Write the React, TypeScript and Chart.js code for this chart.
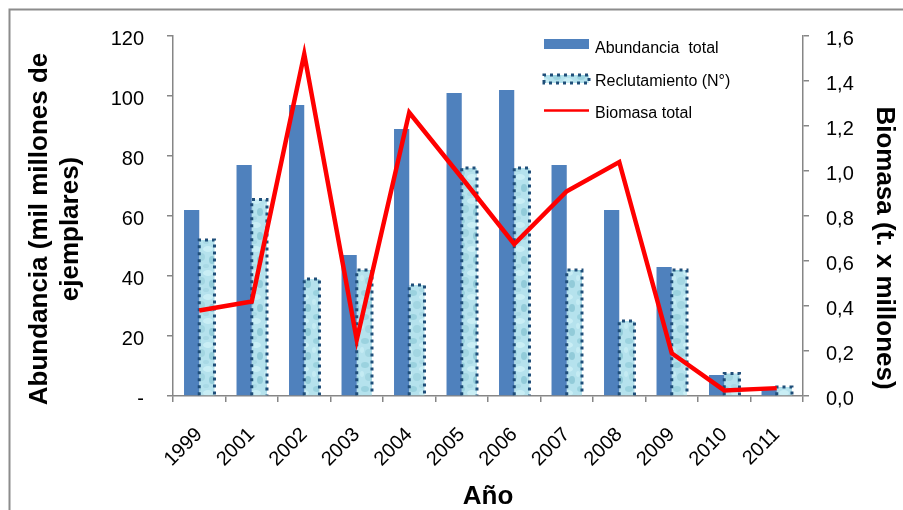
import React, { useEffect, useRef } from "react";
import { Chart, registerables } from "chart.js";

Chart.register(...registerables);

// ---------- data ----------
const years = ["1999", "2001", "2002", "2003", "2004", "2005", "2006", "2007", "2008", "2009", "2010", "2011"];
const abundancia = [62, 77, 97, 47, 89, 101, 102, 77, 62, 43, 7, 2];
const reclutamiento = [52, 65.5, 39, 42, 37, 76, 76, 42, 25, 42, 7.5, 3];
const biomasa = [0.38, 0.42, 1.52, 0.25, 1.26, 0.97, 0.675, 0.91, 1.04, 0.19, 0.025, 0.035];
const leftTickLabels = ["-", "20", "40", "60", "80", "100", "120"];
const rightTickLabels = ["0,0", "0,2", "0,4", "0,6", "0,8", "1,0", "1,2", "1,4", "1,6"];
const seriesNames = ["Abundancia  total", "Reclutamiento (N°)", "Biomasa total"];
const leftTitleLines = ["Abundancia (mil millones de", "ejemplares)"];
const rightTitle = "Biomasa (t. x millones)";
const xTitle = "Año";

// ---------- style ----------
const FONT = '"Liberation Sans", Arial, sans-serif';
const BLUE = "#4f81bd";
const RED = "#ff0000";
const DOT = "#1f4e79";
const AXIS = "#868686";

function makePattern(): CanvasPattern | string {
  const c = document.createElement("canvas");
  c.width = 24;
  c.height = 24;
  const g = c.getContext("2d");
  if (!g) return "#b3e1ec";
  g.fillStyle = "#b5e2ed";
  g.fillRect(0, 0, 24, 24);
  const blobs: [number, number, number, number, string][] = [
    [5, 5, 4, 3, "#9bd2df"],
    [16, 9, 5, 3, "#c9eef5"],
    [9, 17, 4, 4, "#a3d6e2"],
    [20, 20, 3, 4, "#92cbd9"],
    [2, 14, 2, 3, "#c4ebf3"],
    [14, 2, 3, 2, "#a9d9e5"],
  ];
  blobs.forEach(([x, y, rx, ry, col]) => {
    g.fillStyle = col;
    g.beginPath();
    g.ellipse(x, y, rx, ry, 0, 0, Math.PI * 2);
    g.fill();
  });
  return g.createPattern(c, "repeat") || "#b3e1ec";
}

function dottedRect(ctx: CanvasRenderingContext2D, l: number, t: number, r: number, b: number, closed: boolean) {
  ctx.save();
  ctx.strokeStyle = DOT;
  ctx.lineWidth = 3;
  ctx.setLineDash([3, 4]);
  ctx.beginPath();
  ctx.moveTo(l, b);
  ctx.lineTo(l, t);
  ctx.lineTo(r, t);
  ctx.lineTo(r, b);
  if (closed) ctx.closePath();
  ctx.stroke();
  ctx.restore();
}

export default function App() {
  const ref = useRef<HTMLCanvasElement>(null);

  useEffect(() => {
    if (!ref.current) return;
    const pattern = makePattern();

    const framePlugin = {
      id: "frame",
      beforeDraw(chart: any) {
        const ctx = chart.ctx;
        ctx.save();
        ctx.fillStyle = "#ffffff";
        ctx.fillRect(0, 0, chart.width, chart.height);
        ctx.strokeStyle = "#8c8c8c";
        ctx.lineWidth = 2;
        ctx.beginPath();
        ctx.moveTo(9.5, chart.height + 5);
        ctx.lineTo(9.5, 9.5);
        ctx.lineTo(chart.width + 5, 9.5);
        ctx.stroke();
        ctx.restore();
      },
    };

    const dottedBorderPlugin = {
      id: "dottedBorder",
      afterDatasetDraw(chart: any, args: any) {
        if (args.index !== 0) return;
        const meta = chart.getDatasetMeta(1);
        meta.data.forEach((el: any) => {
          const p = el.getProps(["x", "y", "base", "width"], true);
          dottedRect(chart.ctx, p.x - p.width / 2, p.y, p.x + p.width / 2, p.base, false);
        });
      },
    };

    const decorPlugin = {
      id: "decor",
      afterDraw(chart: any) {
        const ctx: CanvasRenderingContext2D = chart.ctx;
        ctx.save();
        // legend
        const lx = 544;
        const tx = 595;
        ctx.font = `16px ${FONT}`;
        ctx.fillStyle = "#000";
        ctx.textAlign = "left";
        ctx.textBaseline = "alphabetic";
        ctx.fillStyle = BLUE;
        ctx.fillRect(lx, 39, 45, 10);
        ctx.fillStyle = "#000";
        ctx.fillText(seriesNames[0], tx, 53);
        ctx.fillStyle = pattern as any;
        ctx.fillRect(lx, 75, 45, 8);
        dottedRect(ctx, lx, 75, lx + 45, 83, true);
        ctx.fillStyle = "#000";
        ctx.fillText(seriesNames[1], tx, 86);
        ctx.strokeStyle = RED;
        ctx.lineWidth = 2.5;
        ctx.beginPath();
        ctx.moveTo(lx, 110.5);
        ctx.lineTo(lx + 45, 110.5);
        ctx.stroke();
        ctx.fillText(seriesNames[2], tx, 118);

        // axis titles
        ctx.font = `bold 26px ${FONT}`;
        ctx.textAlign = "center";
        ctx.textBaseline = "middle";
        ctx.save();
        ctx.translate(40, 229);
        ctx.rotate(-Math.PI / 2);
        ctx.fillText(leftTitleLines[0], 0, 0);
        ctx.fillText(leftTitleLines[1], 0, 31);
        ctx.restore();

        ctx.save();
        ctx.translate(884, 248);
        ctx.rotate(Math.PI / 2);
        ctx.fillText(rightTitle, 0, 0);
        ctx.restore();

        ctx.textBaseline = "alphabetic";
        ctx.fillText(xTitle, 488, 504);
        ctx.restore();
      },
    };

    const gridOpts = {
      display: true,
      drawOnChartArea: false,
      drawTicks: true,
      tickLength: 6,
      color: AXIS,
      lineWidth: 1.5,
    };
    const borderOpts = { display: true, color: AXIS, width: 1.5 };

    const chart = new Chart(ref.current, {
      type: "bar",
      data: {
        labels: years,
        datasets: [
          {
            type: "bar",
            label: seriesNames[0],
            data: abundancia,
            backgroundColor: BLUE,
            yAxisID: "y",
            order: 2,
            categoryPercentage: 0.58,
            barPercentage: 1.0,
          },
          {
            type: "bar",
            label: seriesNames[1],
            data: reclutamiento,
            backgroundColor: pattern as any,
            yAxisID: "y",
            order: 3,
            categoryPercentage: 0.58,
            barPercentage: 1.0,
          },
          {
            type: "line",
            label: seriesNames[2],
            data: biomasa,
            borderColor: RED,
            backgroundColor: RED,
            borderWidth: 4.5,
            pointRadius: 0,
            tension: 0,
            borderJoinStyle: "miter",
            yAxisID: "y1",
            order: 1,
          } as any,
        ],
      },
      options: {
        responsive: false,
        animation: false,
        layout: { padding: { top: 36, left: 0, right: 0, bottom: 0 } },
        plugins: {
          legend: { display: false },
          tooltip: { enabled: false },
          title: { display: false },
        },
        scales: {
          x: {
            type: "category",
            offset: true,
            grid: { ...gridOpts, offset: true },
            border: borderOpts,
            ticks: {
              color: "#000",
              font: { family: FONT, size: 20 },
              minRotation: 45,
              maxRotation: 45,
              autoSkip: false,
              padding: 21,
            },
            afterFit(scale: any) {
              scale.height = 114;
            },
          },
          y: {
            type: "linear",
            position: "left",
            min: 0,
            max: 120,
            grid: gridOpts,
            border: borderOpts,
            ticks: {
              stepSize: 20,
              color: "#000",
              font: { family: FONT, size: 20 },
              padding: 23,
              labelOffset: 3,
              callback: (v: any) => leftTickLabels[Math.round(Number(v) / 20)] ?? "",
            },
            afterFit(scale: any) {
              scale.width = 173;
            },
          },
          y1: {
            type: "linear",
            position: "right",
            min: 0,
            max: 1.6,
            grid: gridOpts,
            border: borderOpts,
            ticks: {
              stepSize: 0.2,
              color: "#000",
              font: { family: FONT, size: 20 },
              padding: 17,
              labelOffset: 3,
              callback: (v: any) => rightTickLabels[Math.round(Number(v) / 0.2)] ?? "",
            },
            afterFit(scale: any) {
              scale.width = 100;
            },
          },
        },
      } as any,
      plugins: [framePlugin, dottedBorderPlugin, decorPlugin],
    });

    return () => chart.destroy();
  }, []);

  return (
    <div style={{ position: "absolute", left: 0, top: 0, width: 903, height: 510 }}>
      <canvas ref={ref} width={903} height={510} style={{ display: "block" }} />
    </div>
  );
}
